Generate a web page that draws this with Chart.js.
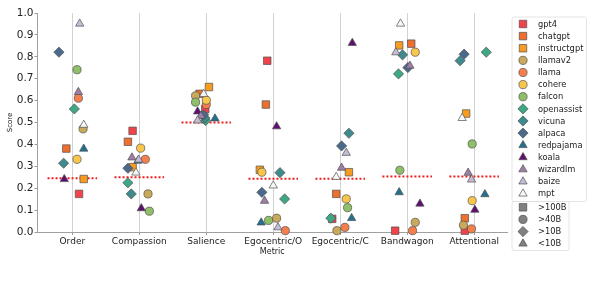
<!DOCTYPE html>
<html>
<head>
<meta charset="utf-8">
<script src="https://cdn.jsdelivr.net/npm/chart.js@4/dist/chart.umd.min.js"></script>
<style>
html, body { margin: 0; padding: 0; background: #fff; }
</style>
</head>
<body>
<canvas id="chart" width="598" height="302"></canvas>
<script>
var categories = ['Order', 'Compassion', 'Salience', 'Egocentric/O', 'Egocentric/C', 'Bandwagon', 'Attentional'];
var baseline = [0.245, 0.25, 0.5, 0.243, 0.243, 0.253, 0.253];
var models = ['gpt4', 'chatgpt', 'instructgpt', 'llamav2', 'llama', 'cohere', 'falcon', 'openassist', 'vicuna', 'alpaca', 'redpajama', 'koala', 'wizardlm', 'baize', 'mpt'];
var modelSize = ['>100B', '>100B', '>100B', '>40B', '>40B', '>40B', '>40B', '>10B', '>10B', '>10B', '<10B', '<10B', '<10B', '<10B', '<10B'];
var sizeLabels = ['>100B', '>40B', '>10B', '<10B'];

/* scores per metric, and the strip jitter (in category units) */
var score_gpt4        = [0.174, 0.462, 0.561, 0.782, 0.060, 0.006, 0.006];
var jitter_gpt4       = [0.10, -0.10, -0.015, -0.09, -0.12, -0.18, -0.14];
var score_chatgpt     = [0.381, 0.412, 0.631, 0.582, 0.174, 0.860, 0.063];
var jitter_chatgpt    = [-0.09, -0.17, -0.10, -0.11, -0.06, 0.06, -0.14];
var score_instructgpt = [0.242, 0.296, 0.662, 0.284, 0.273, 0.852, 0.541];
var jitter_instructgpt= [0.17, -0.10, 0.04, -0.20, 0.13, -0.12, -0.12];
var score_llamav2     = [0.471, 0.174, 0.622, 0.063, 0.006, 0.044, 0.031];
var jitter_llamav2    = [0.16, 0.13, -0.16, 0.05, -0.05, 0.12, -0.16];
var score_llama       = [0.611, 0.332, 0.582, 0.006, 0.021, 0.006, 0.014];
var jitter_llama      = [0.09, 0.09, 0.00, 0.18, 0.07, 0.08, -0.04];
var score_cohere      = [0.332, 0.383, 0.602, 0.273, 0.151, 0.821, 0.143];
var jitter_cohere     = [0.07, 0.02, 0.00, -0.17, 0.09, 0.12, -0.03];
var score_falcon      = [0.741, 0.095, 0.593, 0.053, 0.111, 0.282, 0.402];
var jitter_falcon     = [0.07, 0.15, -0.16, -0.07, 0.11, -0.11, -0.03];
var score_openassist  = [0.562, 0.225, 0.509, 0.151, 0.063, 0.722, 0.821];
var jitter_openassist = [0.03, -0.17, -0.01, 0.17, -0.14, -0.13, 0.18];
var score_vicuna      = [0.314, 0.174, 0.520, 0.271, 0.451, 0.809, 0.782];
var jitter_vicuna     = [-0.13, -0.12, -0.02, 0.10, 0.13, -0.07, -0.21];
var score_alpaca      = [0.821, 0.291, 0.535, 0.181, 0.393, 0.751, 0.812];
var jitter_alpaca     = [-0.20, -0.17, -0.04, -0.17, 0.02, 0.01, -0.15];
var score_redpajama   = [0.380, 0.325, 0.518, 0.043, 0.063, 0.181, 0.172];
var jitter_redpajama  = [0.17, -0.02, 0.13, -0.18, 0.17, -0.12, 0.16];
var score_koala       = [0.241, 0.108, 0.550, 0.482, 0.863, 0.129, 0.101];
var jitter_koala      = [-0.12, 0.03, -0.13, 0.05, 0.18, 0.19, 0.01];
var score_wizardlm    = [0.639, 0.340, 0.530, 0.142, 0.293, 0.759, 0.270];
var jitter_wizardlm   = [0.09, -0.11, -0.08, -0.13, 0.02, 0.04, -0.09];
var score_baize       = [0.951, 0.330, 0.509, 0.021, 0.361, 0.820, 0.239];
var jitter_baize      = [0.11, -0.01, -0.13, 0.07, 0.09, -0.17, -0.04];
var score_mpt         = [0.489, 0.271, 0.630, 0.212, 0.251, 0.951, 0.520];
var jitter_mpt        = [0.17, -0.05, -0.04, 0.00, -0.06, -0.10, -0.18];

var scores = [score_gpt4, score_chatgpt, score_instructgpt, score_llamav2, score_llama, score_cohere, score_falcon,
              score_openassist, score_vicuna, score_alpaca, score_redpajama, score_koala, score_wizardlm, score_baize, score_mpt];
var jitters = [jitter_gpt4, jitter_chatgpt, jitter_instructgpt, jitter_llamav2, jitter_llama, jitter_cohere, jitter_falcon,
               jitter_openassist, jitter_vicuna, jitter_alpaca, jitter_redpajama, jitter_koala, jitter_wizardlm, jitter_baize, jitter_mpt];

var model_colors = ['#f2424a', '#ef6f2e', '#f79c21', '#c9a95a', '#f47f4c', '#f8c64c', '#8fbf68', '#3ea786', '#3f8a8c',
                    '#4b6a8b', '#22708f', '#5e0f6f', '#a07fa6', '#c7bcd6', '#f7f7f7'];
var size_color = '#808080';
var edge_color = '#505050';
var FONT = 'DejaVu Sans';

function shapeFor(size) {
    if (size == '>100B') return 'rect';
    if (size == '>40B') return 'circle';
    if (size == '>10B') return 'rectRot';
    return 'triangle';
}

function radiusFor(shape) {
    if (shape == 'rect') return 5.3;
    if (shape == 'circle') return 4.1;
    if (shape == 'rectRot') return 5.1;
    return 4.8;
}

function drawMarker(ctx, shape, x, y, fill) {
    var r = radiusFor(shape);
    ctx.beginPath();
    if (shape == 'rect') {
        var s = r * Math.SQRT1_2;
        ctx.rect(x - s, y - s, 2 * s, 2 * s);
    } else if (shape == 'circle') {
        ctx.arc(x, y, r, 0, 2 * Math.PI);
    } else if (shape == 'rectRot') {
        ctx.moveTo(x - r, y);
        ctx.lineTo(x, y - r);
        ctx.lineTo(x + r, y);
        ctx.lineTo(x, y + r);
    } else {
        ctx.moveTo(x, y - r);
        ctx.lineTo(x + r * 0.866, y + r * 0.5);
        ctx.lineTo(x - r * 0.866, y + r * 0.5);
    }
    ctx.closePath();
    ctx.fillStyle = fill;
    ctx.fill();
    ctx.lineWidth = 0.7;
    ctx.strokeStyle = edge_color;
    ctx.stroke();
}

function roundBox(ctx, x, y, w, h) {
    ctx.beginPath();
    if (ctx.roundRect) ctx.roundRect(x, y, w, h, 2); else ctx.rect(x, y, w, h);
    ctx.fillStyle = 'rgba(255,255,255,0.85)';
    ctx.fill();
    ctx.lineWidth = 0.8;
    ctx.strokeStyle = '#dddddd';
    ctx.stroke();
}

/* matplotlib style legend: one box for models, one for size classes */
var legendPlugin = {
    id: 'sideLegend',
    afterDraw: function(chart) {
        var ctx = chart.ctx;
        var left = chart.chartArea.right + 5;
        var rowH = 12.12;
        var top = 24;
        ctx.save();
        roundBox(ctx, left, 17, 74.5, 184.5);
        roundBox(ctx, left, 201.5, 57, 49);
        ctx.font = '8.3px "' + FONT + '"';
        ctx.textBaseline = 'middle';
        for (var i = 0; i < models.length; i++) {
            var y = top + rowH * i;
            drawMarker(ctx, shapeFor(modelSize[i]), left + 11, y, model_colors[i]);
            ctx.fillStyle = '#222';
            ctx.fillText(models[i], left + 26, y + 0.5);
        }
        for (var k = 0; k < sizeLabels.length; k++) {
            var ys = 207.3 + rowH * k;
            drawMarker(ctx, shapeFor(sizeLabels[k]), left + 11, ys, size_color);
            ctx.fillStyle = '#222';
            ctx.fillText(sizeLabels[k], left + 26, ys + 0.5);
        }
        ctx.restore();
    }
};

var datasets = [];
for (var i = 0; i < models.length; i++) {
    var shape = shapeFor(modelSize[i]);
    var pts = [];
    for (var j = 0; j < categories.length; j++) {
        pts.push({x: j + jitters[i][j], y: scores[i][j]});
    }
    datasets.push({
        label: models[i],
        data: pts,
        pointStyle: shape,
        pointRadius: radiusFor(shape),
        backgroundColor: model_colors[i],
        borderColor: edge_color,
        borderWidth: 0.7,
        order: 100 - i,
        clip: false
    });
}

/* random-chance baseline per metric */
var basePts = [];
for (var c = 0; c < categories.length; c++) {
    basePts.push({x: c - 0.37, y: baseline[c]});
    basePts.push({x: c + 0.37, y: baseline[c]});
    basePts.push({x: c + 0.5, y: null});
}
datasets.push({
    type: 'line',
    label: 'baseline',
    data: basePts,
    borderColor: '#ee1c1c',
    borderWidth: 2,
    borderDash: [2, 2],
    pointRadius: 0,
    spanGaps: false,
    fill: false,
    order: 200
});

new Chart(document.getElementById('chart'), {
    type: 'scatter',
    data: {datasets: datasets},
    plugins: [legendPlugin],
    options: {
        responsive: false,
        animation: false,
        events: [],
        layout: {padding: {top: 13, right: 91, bottom: 40, left: 0}},
        plugins: {legend: {display: false}, tooltip: {enabled: false}},
        scales: {
            x: {
                type: 'linear',
                min: -0.52,
                max: 6.49,
                ticks: {
                    stepSize: 1,
                    includeBounds: false,
                    autoSkip: false,
                    maxRotation: 0,
                    padding: 1,
                    color: '#222',
                    font: {family: FONT, size: 9},
                    callback: function(v) { return categories[v] !== undefined ? categories[v] : ''; }
                },
                grid: {color: '#d2d2d2', lineWidth: 1, tickLength: 3, tickColor: '#999'},
                border: {color: '#a0a0a0'},
                title: {display: true, text: 'Metric', color: '#222', font: {family: FONT, size: 8}, padding: {top: 0, bottom: 5}},
                afterFit: function(s) { s.height = 30; }
            },
            y: {
                min: 0,
                max: 1,
                ticks: {
                    stepSize: 0.1,
                    padding: 1,
                    color: '#222',
                    font: {family: FONT, size: 10.5},
                    callback: function(v) { return v.toFixed(1); }
                },
                grid: {drawOnChartArea: false, tickLength: 3, color: '#999'},
                border: {color: '#a0a0a0'},
                title: {display: true, text: 'Score', color: '#222', font: {family: FONT, size: 7}, padding: {top: 6, bottom: 0}},
                afterFit: function(s) { s.width = 37.5; }
            }
        }
    }
});
</script>
</body>
</html>
